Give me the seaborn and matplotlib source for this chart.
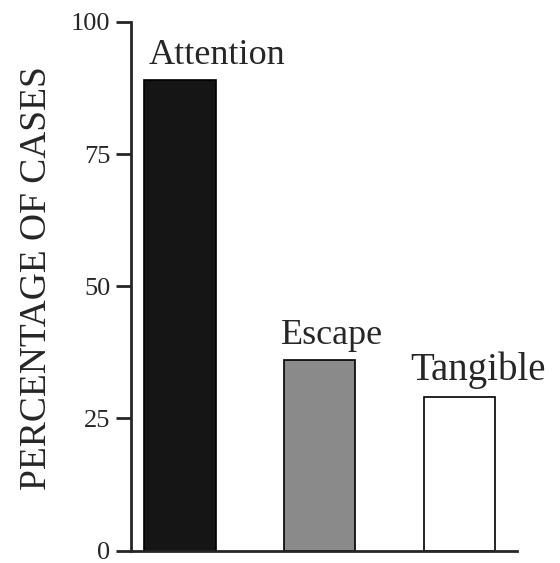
import numpy as np
import matplotlib.pyplot as plt
import pandas as pd
import seaborn as sb

# data
categories = ["Attention", "Escape", "Tangible"]
percent = [89, 36, 29]
yticks = [0, 25, 50, 75, 100]

df = pd.DataFrame({"function": categories, "pct": percent})

sb.set_style("ticks")
plt.rcParams['font.family'] = ['Liberation Serif', 'DejaVu Serif']

fig = plt.figure(figsize=(5.6, 5.63), dpi=100)
ax = fig.add_axes([0.234, 0.022, 0.689, 0.939])

bar_colors = ["#151515", "#8a8a8a", "white"]
sb.barplot(data=df, x="function", y="pct", hue="function", palette=bar_colors,
           legend=False, width=0.51, edgecolor="black", linewidth=1.2,
           saturation=1, ax=ax)

# labels sit just above each bar, near the left edge
label_shift = [0.03, -0.02, -0.1]
label_size = [26, 26, 28]
for i, (name, val) in enumerate(zip(categories, percent)):
    ax.text(i - 0.255 + label_shift[i], val + 1.5, name, ha="left", va="bottom",
            fontsize=label_size[i])

ax.set_xlim(-0.35, 2.41)
ax.set_ylim(0, 100)
ax.set_yticks(yticks)
ax.set_yticklabels([str(t) for t in yticks], fontsize=19)
ax.set_xticks([])
ax.set_xlabel("")
ax.set_ylabel("PERCENTAGE OF CASES", fontsize=27)
ax.yaxis.set_label_coords(-0.2, 0.515)
ax.tick_params(axis="y", direction="out", length=11, width=2, pad=4)

sb.despine(ax=ax)
ax.spines["left"].set_linewidth(2)
ax.spines["bottom"].set_linewidth(2)

fig.savefig("out.png", dpi=100)
